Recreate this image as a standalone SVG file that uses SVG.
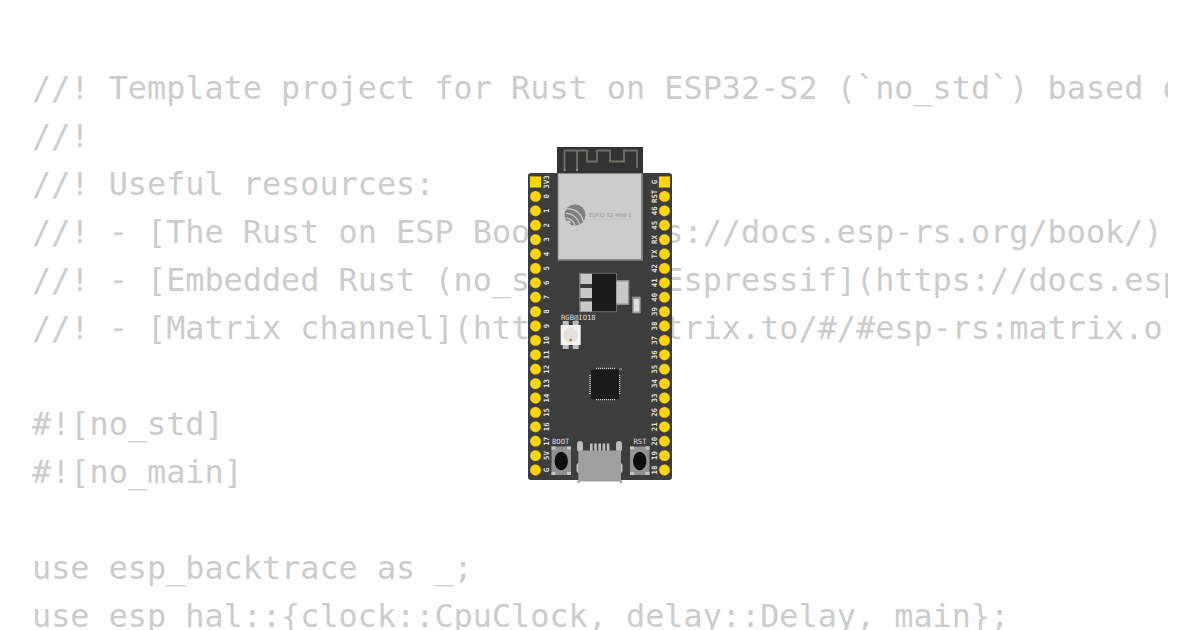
<svg xmlns="http://www.w3.org/2000/svg" width="1200" height="630" viewBox="0 0 1200 630">
<style>
.code{font-family:"DejaVu Sans Mono",monospace;font-size:31.83px;fill:#cccccc}
.pin{fill:#ffd60a;stroke:#c9a800;stroke-width:.3}
.pl{font-family:"DejaVu Sans Mono",monospace;font-size:7.4px;font-weight:bold;fill:#dedede;text-anchor:middle}
.sl{font-family:"DejaVu Sans Mono",monospace;font-size:7.2px;fill:#dedede}
.lead{fill:#c8c8c8}
.gr{fill:#bdbdbd}
</style>
<defs><clipPath id="c"><rect x="0" y="0" width="1168" height="630"/></clipPath></defs>
<rect width="1200" height="630" fill="#ffffff"/>
<g id="code" clip-path="url(#c)" opacity=".999">
<text class="code" x="32" y="99">//! Template project for Rust on ESP32-S2 (`no_std`) based on</text>
<text class="code" x="32" y="147">//!</text>
<text class="code" x="32" y="195">//! Useful resources:</text>
<text class="code" x="32" y="243">//! - [The Rust on ESP Book](https://docs.esp-rs.org/book/)</text>
<text class="code" x="32" y="291">//! - [Embedded Rust (no_std) on Espressif](https://docs.esp-rs.org/no_std-training/)</text>
<text class="code" x="32" y="339">//! - [Matrix channel](https://matrix.to/#/#esp-rs:matrix.org)</text>
<text class="code" x="32" y="435">#![no_std]</text>
<text class="code" x="32" y="483">#![no_main]</text>
<text class="code" x="32" y="579">use esp_backtrace as _;</text>
<text class="code" x="32" y="627">use esp_hal::{clock::CpuClock, delay::Delay, main};</text>
</g>
<g id="board" opacity=".999">
<rect x="528" y="173" width="144" height="307" rx="3" fill="#3d3d3d"/>
<rect x="557" y="147" width="86" height="27" fill="#333333"/>
<path d="M564.500 171V150.500H587V161.500H597V150.500H610V161.500H624V150.500H637V168M577 171V150.500" fill="none" stroke="#70706a" stroke-width="1.800"/>
<circle cx="564.500" cy="170" r="1" fill="#a8a060"/><circle cx="577" cy="170" r="1" fill="#a8a060"/>
<rect x="558" y="173.500" width="83.500" height="86" fill="#cccccc" stroke="#8a8a8a" stroke-width=".8"/>
<path d="M642.500 173.500V260.500H558" fill="none" stroke="#a0a0a0" stroke-width=".6"/>
<g id="logo"><circle cx="575" cy="215" r="10.500" fill="#808080"/>
<path d="M566.500 209C575 207.500 582.500 214.500 583.500 223M566 213.500C572 213 578.500 218.500 579.500 225M565.500 218C570 218 574 221.500 575 225.500" fill="none" stroke="#cccccc" stroke-width="1.200"/><circle cx="568.500" cy="222" r="1.800" fill="#cccccc"/></g>
<text x="589" y="217" font-family="DejaVu Sans,sans-serif" font-size="5.100" fill="#999999">ESP32-S2-MINI-1</text>
<g id="regulator">
<rect x="579.700" y="273.300" width="36.800" height="38.400" fill="#3d3d3d" stroke="#8f8f8f" stroke-width=".8"/>
<rect x="592" y="273.700" width="24.200" height="37.600" fill="#1a1a1a"/>
<rect class="lead" x="580.300" y="274" width="11.700" height="10"/>
<rect class="lead" x="580.300" y="288" width="11.700" height="10"/>
<rect class="lead" x="580.300" y="301.500" width="11.700" height="10"/>
<rect x="616.500" y="280" width="12.800" height="25" fill="#8f8f8f"/>
<rect class="lead" x="616.500" y="281.500" width="11.500" height="22"/>
</g>
<g id="cap"><rect x="632.300" y="296.700" width="8.400" height="16.600" fill="#999999"/><rect x="633.700" y="299" width="5.600" height="12.500" fill="#dddddd"/></g>
<g id="led">
<rect class="gr" x="562.700" y="321" width="6" height="28"/><rect class="gr" x="572.700" y="321" width="6" height="28"/>
<rect x="560.700" y="325" width="20" height="20" fill="#f4f4f4"/>
<circle cx="570.700" cy="335" r="7.500" fill="#e6e1dc"/><circle cx="570.700" cy="340" r="1.400" fill="#a8903c"/>
<text class="sl" x="561" y="319.500">RGB@IO18</text></g>
<g id="chip">
<path d="M596 368.500H615M596 399.500H615M590 375V395M619.500 375V395" fill="none" stroke="#d0d0d0" stroke-width="1.500" stroke-dasharray="1 1"/>
<circle cx="620.500" cy="369.200" r="1" fill="none" stroke="#d0d0d0" stroke-width=".5"/>
<rect x="591" y="369.500" width="28" height="29.500" fill="#1a1a1a"/>
</g>
<g id="usb">
<rect class="gr" x="577" y="441" width="6" height="11" rx="3"/><rect class="gr" x="616" y="441" width="6" height="11" rx="3"/>
<rect class="gr" x="576.500" y="463" width="46" height="10" rx="2.500"/>
<rect class="gr" x="590" y="443.500" width="2.600" height="8"/><rect class="gr" x="594.200" y="443.500" width="2.600" height="8"/><rect class="gr" x="598.400" y="443.500" width="2.600" height="8"/><rect class="gr" x="602.600" y="443.500" width="2.600" height="8"/><rect class="gr" x="606.800" y="443.500" width="2.600" height="8"/>
<path d="M578.300 450.500H621V479L622.500 483H620.500L619 481.500H580.500L579 483H577L578.300 479Z" fill="#a0a0a0"/>
</g>
<g id="boot"><rect x="551.500" y="446.500" width="19.500" height="28.500" fill="#929292"/><path d="M551.500 446.500h4v3h-4zM567 446.500h4v3h-4zM551.500 472h4v3h-4zM567 472h4v3h-4z" fill="#c4c4c4"/><ellipse cx="561.200" cy="461" rx="6.700" ry="9.200" fill="#0d0d0d"/><text class="sl" x="552" y="443.500">BOOT</text></g>
<g id="rst"><rect x="630" y="446.500" width="19.500" height="28.500" fill="#929292"/><path d="M630 446.500h4v3h-4zM645.500 446.500h4v3h-4zM630 472h4v3h-4zM645.500 472h4v3h-4z" fill="#c4c4c4"/><ellipse cx="639.700" cy="461" rx="6.700" ry="9.200" fill="#0d0d0d"/><text class="sl" x="633.500" y="443.500">RST</text></g>
<g id="pins-left">
<rect class="pin" x="530" y="176.500" width="11" height="11"/>
<circle class="pin" cx="535.500" cy="196.400" r="5.400"/><circle class="pin" cx="535.500" cy="210.800" r="5.400"/><circle class="pin" cx="535.500" cy="225.200" r="5.400"/><circle class="pin" cx="535.500" cy="239.600" r="5.400"/><circle class="pin" cx="535.500" cy="254" r="5.400"/><circle class="pin" cx="535.500" cy="268.400" r="5.400"/><circle class="pin" cx="535.500" cy="282.800" r="5.400"/><circle class="pin" cx="535.500" cy="297.200" r="5.400"/><circle class="pin" cx="535.500" cy="311.600" r="5.400"/><circle class="pin" cx="535.500" cy="326" r="5.400"/><circle class="pin" cx="535.500" cy="340.400" r="5.400"/><circle class="pin" cx="535.500" cy="354.800" r="5.400"/><circle class="pin" cx="535.500" cy="369.200" r="5.400"/><circle class="pin" cx="535.500" cy="383.600" r="5.400"/><circle class="pin" cx="535.500" cy="398" r="5.400"/><circle class="pin" cx="535.500" cy="412.400" r="5.400"/><circle class="pin" cx="535.500" cy="426.800" r="5.400"/><circle class="pin" cx="535.500" cy="441.200" r="5.400"/><circle class="pin" cx="535.500" cy="455.600" r="5.400"/><circle class="pin" cx="535.500" cy="470" r="5.400"/>
</g>
<g id="pins-right">
<rect class="pin" x="659" y="176.500" width="11" height="11"/>
<circle class="pin" cx="664.500" cy="196.400" r="5.400"/><circle class="pin" cx="664.500" cy="210.800" r="5.400"/><circle class="pin" cx="664.500" cy="225.200" r="5.400"/><circle class="pin" cx="664.500" cy="239.600" r="5.400"/><circle class="pin" cx="664.500" cy="254" r="5.400"/><circle class="pin" cx="664.500" cy="268.400" r="5.400"/><circle class="pin" cx="664.500" cy="282.800" r="5.400"/><circle class="pin" cx="664.500" cy="297.200" r="5.400"/><circle class="pin" cx="664.500" cy="311.600" r="5.400"/><circle class="pin" cx="664.500" cy="326" r="5.400"/><circle class="pin" cx="664.500" cy="340.400" r="5.400"/><circle class="pin" cx="664.500" cy="354.800" r="5.400"/><circle class="pin" cx="664.500" cy="369.200" r="5.400"/><circle class="pin" cx="664.500" cy="383.600" r="5.400"/><circle class="pin" cx="664.500" cy="398" r="5.400"/><circle class="pin" cx="664.500" cy="412.400" r="5.400"/><circle class="pin" cx="664.500" cy="426.800" r="5.400"/><circle class="pin" cx="664.500" cy="441.200" r="5.400"/><circle class="pin" cx="664.500" cy="455.600" r="5.400"/><circle class="pin" cx="664.500" cy="470" r="5.400"/>
</g>
<g id="labels-left">
<text class="pl" transform="translate(549.300 182) rotate(-90)">3V3</text>
<text class="pl" transform="translate(549.300 196.400) rotate(-90)">0</text>
<text class="pl" transform="translate(549.300 210.800) rotate(-90)">1</text>
<text class="pl" transform="translate(549.300 225.200) rotate(-90)">2</text>
<text class="pl" transform="translate(549.300 239.600) rotate(-90)">3</text>
<text class="pl" transform="translate(549.300 254) rotate(-90)">4</text>
<text class="pl" transform="translate(549.300 268.400) rotate(-90)">5</text>
<text class="pl" transform="translate(549.300 282.800) rotate(-90)">6</text>
<text class="pl" transform="translate(549.300 297.200) rotate(-90)">7</text>
<text class="pl" transform="translate(549.300 311.600) rotate(-90)">8</text>
<text class="pl" transform="translate(549.300 326) rotate(-90)">9</text>
<text class="pl" transform="translate(549.300 340.400) rotate(-90)">10</text>
<text class="pl" transform="translate(549.300 354.800) rotate(-90)">11</text>
<text class="pl" transform="translate(549.300 369.200) rotate(-90)">12</text>
<text class="pl" transform="translate(549.300 383.600) rotate(-90)">13</text>
<text class="pl" transform="translate(549.300 398) rotate(-90)">14</text>
<text class="pl" transform="translate(549.300 412.400) rotate(-90)">15</text>
<text class="pl" transform="translate(549.300 426.800) rotate(-90)">16</text>
<text class="pl" transform="translate(549.300 441.200) rotate(-90)">17</text>
<text class="pl" transform="translate(549.300 455.600) rotate(-90)">5V</text>
<text class="pl" transform="translate(549.300 470) rotate(-90)">G</text>
</g>
<g id="labels-right">
<text class="pl" transform="translate(656.500 182) rotate(-90)">G</text>
<text class="pl" transform="translate(656.500 196.400) rotate(-90)">RST</text>
<text class="pl" transform="translate(656.500 210.800) rotate(-90)">46</text>
<text class="pl" transform="translate(656.500 225.200) rotate(-90)">45</text>
<text class="pl" transform="translate(656.500 239.600) rotate(-90)">RX</text>
<text class="pl" transform="translate(656.500 254) rotate(-90)">TX</text>
<text class="pl" transform="translate(656.500 268.400) rotate(-90)">42</text>
<text class="pl" transform="translate(656.500 282.800) rotate(-90)">41</text>
<text class="pl" transform="translate(656.500 297.200) rotate(-90)">40</text>
<text class="pl" transform="translate(656.500 311.600) rotate(-90)">39</text>
<text class="pl" transform="translate(656.500 326) rotate(-90)">38</text>
<text class="pl" transform="translate(656.500 340.400) rotate(-90)">37</text>
<text class="pl" transform="translate(656.500 354.800) rotate(-90)">36</text>
<text class="pl" transform="translate(656.500 369.200) rotate(-90)">35</text>
<text class="pl" transform="translate(656.500 383.600) rotate(-90)">34</text>
<text class="pl" transform="translate(656.500 398) rotate(-90)">33</text>
<text class="pl" transform="translate(656.500 412.400) rotate(-90)">26</text>
<text class="pl" transform="translate(656.500 426.800) rotate(-90)">21</text>
<text class="pl" transform="translate(656.500 441.200) rotate(-90)">20</text>
<text class="pl" transform="translate(656.500 455.600) rotate(-90)">19</text>
<text class="pl" transform="translate(656.500 470) rotate(-90)">18</text>
</g>
</g>
</svg>
